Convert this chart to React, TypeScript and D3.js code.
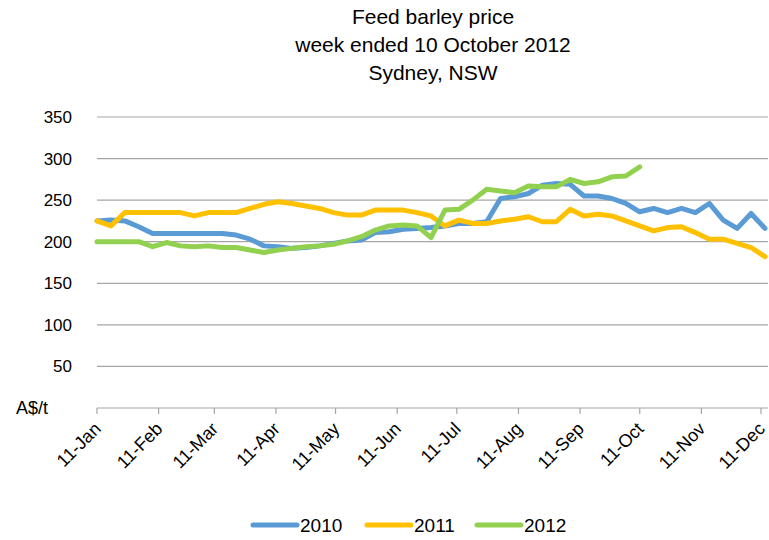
import React from "react";
import * as d3 from "d3";

const titleLines = ["Feed barley price", "week ended  10 October 2012", "Sydney, NSW"];
const seriesNames = ["2010", "2011", "2012"];
const seriesColors = ["#5B9BD5", "#FFC000", "#92D050"];
const yTicks = [50, 100, 150, 200, 250, 300, 350];
const monthLabels = ["11-Jan", "11-Feb", "11-Mar", "11-Apr", "11-May", "11-Jun", "11-Jul", "11-Aug", "11-Sep", "11-Oct", "11-Nov", "11-Dec"];

// weekly prices, first week ending ~11 Jan
const v2010 = [225, 226, 225, 218, 210, 210, 210, 210, 210, 210, 208, 203, 195, 194, 192, 193, 195, 198, 201, 202, 211, 212, 215, 216, 217, 219, 222, 222, 224, 252, 254, 258, 268, 270, 269, 255, 255, 252, 246, 236, 240, 235, 240, 235, 246, 226, 216, 234, 216];
const v2011 = [225, 219, 235, 235, 235, 235, 235, 231, 235, 235, 235, 240, 245, 248, 246, 243, 240, 235, 232, 232, 238, 238, 238, 235, 231, 219, 226, 222, 222, 225, 227, 230, 224, 224, 239, 231, 233, 231, 225, 219, 213, 217, 218, 211, 203, 203, 198, 193, 182];
const v2012 = [200, 200, 200, 200, 194, 199, 195, 194, 195, 193, 193, 190, 187, 190, 192, 194, 195, 197, 201, 206, 214, 219, 220, 219, 205, 238, 239, 250, 263, 261, 259, 267, 266, 266, 275, 270, 272, 278, 279, 290];

const FONT = "'Liberation Sans', Arial, sans-serif";

export default function App() {
  const W = 769, H = 540;
  const base = new Date(2011, 0, 11);
  const tickDates = monthLabels.map((_, i) => new Date(2011, i, 11));
  const x = d3.scaleTime().domain([base, new Date(2011, 11, 11)]).range([97, 761]);
  const xEnd = 768;
  const y = d3.scaleLinear().domain([0, 350]).range([408, 117]);
  const weekDate = (i: number) => d3.timeDay.offset(base, 7 * i);
  const line = d3.line<number>().x((_, i) => x(weekDate(i))).y((d) => y(d));
  const all = [v2010, v2011, v2012];

  const legendItems = [253, 367, 477];

  return (
    <svg width={W} height={H} style={{ position: "absolute", left: 0, top: 0, background: "#fff" }} fontFamily={FONT}>
      {titleLines.map((t, i) => (
        <text key={i} x={433} y={24 + i * 28} textAnchor="middle" fontSize={21} fill="#000" textLength={undefined}>{t}</text>
      ))}
      {yTicks.map((t) => (
        <g key={t}>
          <line x1={97} x2={xEnd} y1={y(t)} y2={y(t)} stroke="#A6A6A6" strokeWidth={1.2} />
          <text x={72} y={y(t) + 6} textAnchor="end" fontSize={17} fill="#000">{t}</text>
        </g>
      ))}
      <text x={16} y={y(0) + 6} fontSize={18} fill="#000">A$/t</text>
      <line x1={97} x2={xEnd} y1={y(0)} y2={y(0)} stroke="#A6A6A6" strokeWidth={1.2} />
      {tickDates.map((d, i) => {
        const px = x(d);
        return (
          <g key={i}>
            <line x1={px} x2={px} y1={y(0)} y2={y(0) + 6} stroke="#A6A6A6" strokeWidth={1.2} />
            <text transform={`translate(${px + 5},${y(0) + 22}) rotate(-45)`} textAnchor="end" fontSize={18} fill="#000">{monthLabels[i]}</text>
          </g>
        );
      })}
      {all.map((s, k) => (
        <path key={k} d={line(s) || ""} fill="none" stroke={seriesColors[k]} strokeWidth={5} strokeLinejoin="round" strokeLinecap="round" />
      ))}
      {seriesNames.map((n, k) => (
        <g key={n}>
          <line x1={legendItems[k]} x2={legendItems[k] + 44} y1={525} y2={525} stroke={seriesColors[k]} strokeWidth={5} strokeLinecap="round" />
          <text x={legendItems[k] + 47} y={532} fontSize={19} fill="#000">{n}</text>
        </g>
      ))}
    </svg>
  );
}
